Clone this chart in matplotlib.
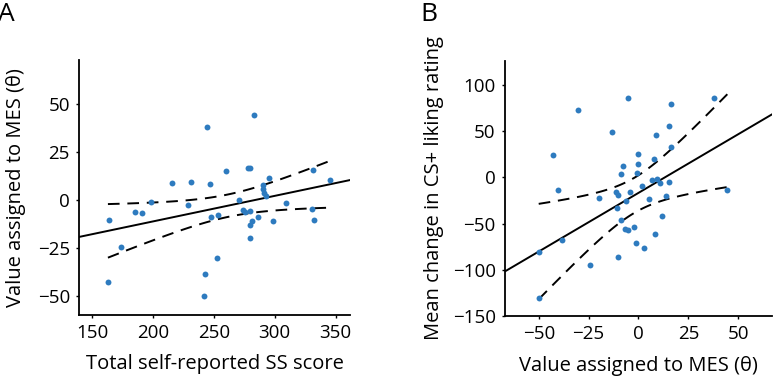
import numpy as np
import matplotlib.pyplot as plt

# panel A: total SS score vs value assigned to MES
ss_score = [162.9, 163.7, 173.5, 184.8, 190.5, 197.9, 215.9, 228.8, 231.0, 244.1,
            243.0, 242.2, 247.0, 247.8, 253.5, 252.8, 259.8, 270.8, 274.1, 275.3,
            277.9, 279.9, 279.3, 279.4, 281.3, 279.3, 283.0, 286.2, 290.1, 290.2,
            291.0, 293.0, 295.3, 298.3, 309.2, 331.5, 331.0, 332.0, 345.8]
mes_a = [-42.9, -10.6, -24.6, -6.4, -6.9, -1.2, 8.8, -2.6, 9.3, 37.8,
         -38.7, -50.2, 8.2, -9.1, -8.2, -30.5, 15.1, -0.3, -5.3, -6.4,
         16.5, 16.5, -5.8, -13.4, -11.3, -20.0, 44.4, -9.0, 7.8, 5.8,
         3.5, 1.8, 11.6, -11.2, -1.6, 15.4, -4.8, -10.8, 10.4]

# panel B: value assigned to MES vs change in CS+ liking
mes_b = [-50.0, -50.0, -42.7, -40.5, -38.5, -30.5, -24.4, -19.8, -13.5, -5.5,
         -8.8, -7.8, -11.3, -10.4, -10.9, -8.8, -10.4, -6.5, -7.0, -5.5,
         -4.5, -2.4, -1.4, -0.1, -0.1, -0.7, 2.0, 2.7, 5.3, 6.6,
         8.2, 8.0, 8.9, 9.5, 10.7, 12.0, 14.0, 15.3, 15.4, 16.4,
         16.4, 37.7, 44.5]
liking = [-81.0, -131.0, 24.5, -13.4, -67.5, 73.3, -95.0, -22.4, 48.6, 85.6,
          4.0, 12.0, -15.9, -19.6, -33.4, -46.3, -86.4, -25.3, -56.0, -57.3,
          -16.3, -53.3, -71.5, 25.7, 14.7, 4.5, -9.8, -76.5, -23.3, -3.2,
          -61.5, 20.2, 45.6, -1.6, -6.3, -42.3, -20.5, 55.6, -4.6, 79.4,
          32.5, 85.6, -13.4]

# model fit shown in panel B (read off the figure, not plain OLS of the dots)
b_slope, b_icpt = 1.27, -16.8
b_band_center, b_band_min, b_band_k = -2.0, 19.0, 1.0

T_CRIT = 2.02
DOT = '#2e7bbf'
FONT = 'Open Sans'


def ols_fit(x, y):
    x = np.asarray(x)
    y = np.asarray(y)
    n = len(x)
    slope, icpt = np.polyfit(x, y, 1)
    resid = y - (slope * x + icpt)
    se = np.sqrt(np.sum(resid ** 2) / (n - 2))
    sxx = np.sum((x - x.mean()) ** 2)
    h0 = T_CRIT * se / np.sqrt(n)
    k = (T_CRIT * se) ** 2 / sxx
    return slope, icpt, x.mean(), h0, k


def draw_fit(ax, x, y, xlim, slope, icpt, xc, h0, k):
    xs = np.linspace(xlim[0], xlim[1], 100)
    ax.plot(xs, slope * xs + icpt, color='black', lw=1.4, zorder=3)

    xb = np.linspace(min(x), max(x), 100)
    half = np.sqrt(h0 ** 2 + k * (xb - xc) ** 2)
    mid = slope * xb + icpt
    for band in (mid + half, mid - half):
        ax.plot(xb, band, color='black', lw=1.4, linestyle=(0, (6, 4)), zorder=3)

    ax.scatter(x, y, s=18, color=DOT, zorder=4, linewidths=0)


def style(ax):
    for side in ('top', 'right'):
        ax.spines[side].set_visible(False)
    for side in ('left', 'bottom'):
        ax.spines[side].set_linewidth(1.3)
    ax.tick_params(length=2.5, width=1, labelsize=13.5, pad=4)
    for lab in ax.get_xticklabels() + ax.get_yticklabels():
        lab.set_family(FONT)


fig = plt.figure(figsize=(7.73, 3.83), dpi=100)

ax1 = fig.add_axes([0.102, 0.178, 0.351, 0.666])
draw_fit(ax1, ss_score, mes_a, (139, 362), *ols_fit(ss_score, mes_a))
ax1.set_xlim(139, 362)
ax1.set_ylim(-60, 73)
ax1.set_xticks([150, 200, 250, 300, 350])
ax1.set_yticks([-50, -25, 0, 25, 50])
style(ax1)
ax1.set_xlabel('Total self-reported SS score', fontsize=14.5, family=FONT, labelpad=9)
ax1.set_ylabel('Value assigned to MES (θ)', fontsize=14.5, family=FONT, labelpad=8)

ax2 = fig.add_axes([0.653, 0.175, 0.346, 0.666])
draw_fit(ax2, mes_b, liking, (-67, 67), b_slope, b_icpt,
         b_band_center, b_band_min, b_band_k)
ax2.set_xlim(-67, 67)
ax2.set_ylim(-150, 126)
ax2.set_xticks([-50, -25, 0, 25, 50])
ax2.set_yticks([-150, -100, -50, 0, 50, 100])
style(ax2)
ax2.set_xlabel('Value assigned to MES (θ)', fontsize=14.5, family=FONT, labelpad=9)
ax2.set_ylabel('Mean change in CS+ liking rating', fontsize=14.5, family=FONT, labelpad=6)

fig.text(-0.002, 0.995, 'A', fontsize=19, family=FONT, va='top', ha='left')
fig.text(0.544, 0.995, 'B', fontsize=19, family=FONT, va='top', ha='left')

fig.savefig('out.png', dpi=100)
